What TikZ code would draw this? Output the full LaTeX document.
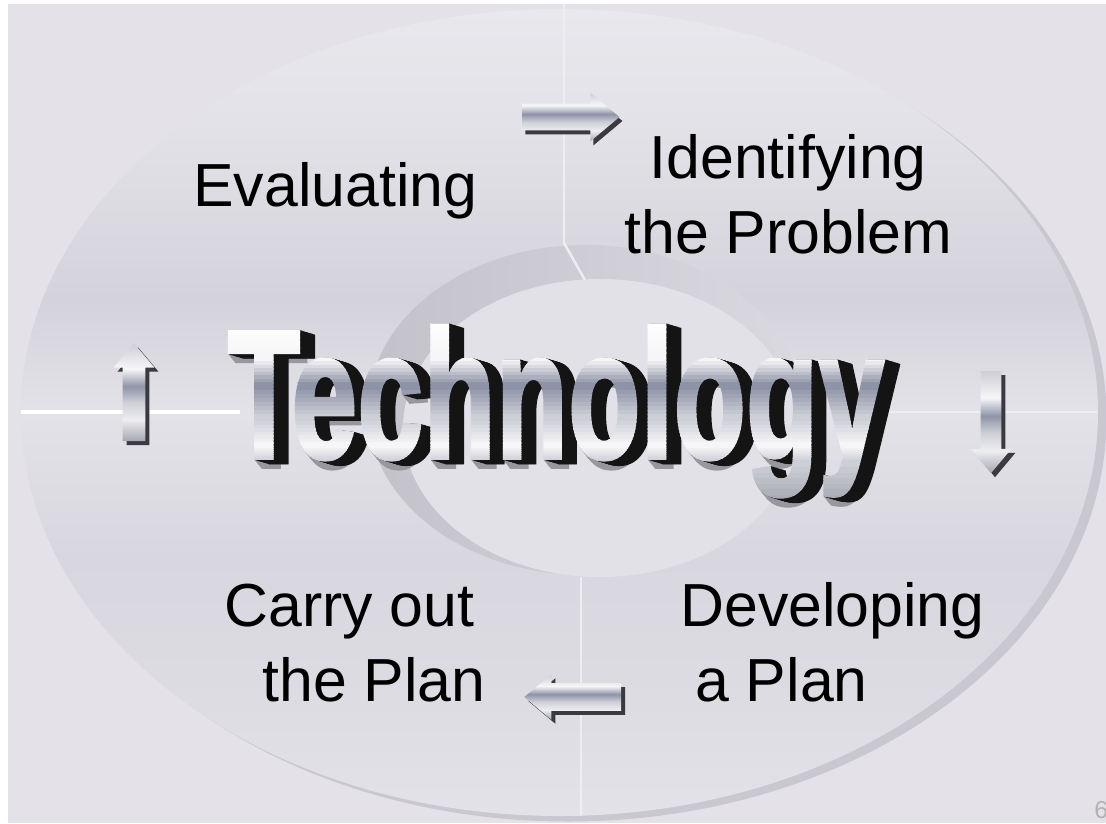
\documentclass[tikz,border=0pt]{standalone}
\usepackage{graphicx}
\usepackage{fontspec}
\setmainfont{Liberation Sans}
\newfontfamily\techfont{Liberation Sans}[BoldFeatures={FakeBold=2}]
\usetikzlibrary{shapes.arrows}

\definecolor{slide}{HTML}{E4E2E8}
\definecolor{ringa}{HTML}{E9E8ED}
\definecolor{ringb}{HTML}{E3E2E8}
\definecolor{ringc}{HTML}{D4D3DB}
\definecolor{ringd}{HTML}{E3E2E8}
\definecolor{ringe}{HTML}{D8D7DF}
\definecolor{ringf}{HTML}{DDDCE3}
\definecolor{ringshadow}{HTML}{C9C8D0}
\definecolor{crescdark}{HTML}{C3C2CB}
\definecolor{cresclight}{HTML}{DAD9E0}
\definecolor{innerdisc}{HTML}{E3E1E8}
\definecolor{seam}{HTML}{EEEDF2}
\definecolor{arrowside}{HTML}{3A3A40}
\definecolor{chromewhite}{HTML}{F6F6F8}
\definecolor{chromeband}{HTML}{8E94A7}
\definecolor{chromemid}{HTML}{CDCFD6}
\definecolor{chromelow}{HTML}{A4A6B0}
\definecolor{techbevel}{HTML}{97979D}

% metal-look shadings
\pgfdeclareverticalshading{ringface}{100bp}{color(0bp)=(ringd); color(25bp)=(ringd);
  color(32bp)=(ringf); color(41bp)=(ringe); color(50bp)=(ringd); color(57bp)=(ringc);
  color(68bp)=(ringb); color(75bp)=(ringa); color(100bp)=(ringa)}
\pgfdeclareverticalshading{chrome}{100bp}{color(0bp)=(chromelow); color(25bp)=(chromelow);
  color(36bp)=(chromewhite!80!chromemid); color(45bp)=(chromemid); color(53bp)=(chromeband);
  color(62bp)=(chromewhite); color(75bp)=(chromemid); color(100bp)=(chromemid)}

\newcommand\techsize{\techfont\fontsize{104.3}{110}\selectfont\bfseries}
\newcommand\techword{\scalebox{0.647}[1]{Technology}}

\begin{document}
\begin{tikzpicture}[x=0.02cm, y=-0.02cm,
    phase/.style={inner sep=0pt, align=left, font=\fontsize{34.6}{42.5}\selectfont},
    chromearrow/.style={single arrow, inner xsep=0pt, single arrow tip angle=80, shading=chrome},
    arrowedge/.style={single arrow, inner xsep=0pt, single arrow tip angle=80, fill=arrowside},
    techword/.style={inner sep=0pt, font=\techsize}]

  % slide background
  \fill[white] (0,0) rectangle (1106,823);
  \fill[slide] (8,4) rectangle (1106,823);
  \useasboundingbox (0,0) rectangle (1106,823);

  % outer ring with its rim
  \fill[ringshadow] (568,418) ellipse [x radius=538.5, y radius=403.5];
  \shade[shading=ringface] (559.5,412.5) ellipse [x radius=538.5, y radius=403.5];

  % inner hollow
  \shade[left color=crescdark, right color=cresclight] (585,410) ellipse [x radius=217, y radius=165];
  \fill[innerdisc] (600,428) ellipse [x radius=197, y radius=149];

  % seams between the four quarters
  \draw[seam, line width=1.4pt] (564,4) -- (564,243) -- (585,280);
  \draw[seam, line width=1.4pt] (581,577) -- (581,816);
  \draw[white, line width=2.6pt] (21,412) -- (240,412);
  \draw[seam, line width=1.4pt] (885,412) -- (1097,412);

  % the four steps
  \node[phase, anchor=base west] (eval) at (193,206) {Evaluating};
  \node[phase, anchor=base west, align=center] (ident) at (624,253) {Identifying\\the Problem};
  \node[phase, anchor=base west] (carry) at (224,701) {Carry out\\\hspace{0.76cm}the Plan};
  \node[phase, anchor=base west] (devel) at (680,701) {Developing\\\hspace{0.3cm}a Plan};

  % arrows running clockwise
  \node[arrowedge, minimum height=1.94cm, inner ysep=0.26cm, single arrow head extend=0.22cm] (toprim) at (566,121) {};
  \node[chromearrow, minimum height=1.94cm, inner ysep=0.26cm, single arrow head extend=0.22cm] (toparrow) at (563,117) {};
  \node[arrowedge, rotate=-90, minimum height=2.04cm, inner ysep=0.2cm, single arrow head extend=0.2cm] (rightrim) at (995,420) {};
  \node[chromearrow, rotate=-90, minimum height=2.04cm, inner ysep=0.2cm, single arrow head extend=0.2cm] (rightarrow) at (991,416) {};
  \node[arrowedge, rotate=180, minimum height=1.94cm, inner ysep=0.27cm, single arrow head extend=0.18cm] (bottomrim) at (585,701) {};
  \node[chromearrow, rotate=180, minimum height=1.94cm, inner ysep=0.27cm, single arrow head extend=0.18cm] (bottomarrow) at (581,697) {};
  \node[arrowedge, rotate=90, minimum height=1.96cm, inner ysep=0.22cm, single arrow head extend=0.18cm] (leftrim) at (138,403) {};
  \node[chromearrow, rotate=90, minimum height=1.96cm, inner ysep=0.22cm, single arrow head extend=0.18cm] (leftarrow) at (134,399) {};

  % title: extruded body first
  \foreach \i in {9,...,1}
    \node[techword, text=techbevel] (bevel\i) at (556+0.8*\i,411+1.0*\i) {\techword};
  \foreach \i in {15,...,1}
    \node[techword, text=black!92] (side\i) at (556+\i,411+0.3*\i) {\techword};
  % chrome face, laid down in thin horizontal bands
  \foreach \ya/\yb/\ca/\cb in {316/358/white/chromewhite, 358/386/chromewhite/chromeband,
      386/418/chromeband/chromemid, 418/446/chromemid/chromewhite,
      446/462/chromewhite/chromemid, 462/506/chromemid/chromelow}
    \foreach \k in {0,...,7} {
      \pgfmathsetmacro\bandtop{\ya+(\yb-\ya)*\k/8}
      \pgfmathsetmacro\bandbot{\ya+(\yb-\ya)*(\k+1)/8+0.6}
      \pgfmathtruncatemacro\mix{100*\k/7}
      \begin{scope}
        \clip (200,\bandtop) rectangle (920,\bandbot);
        \node[techword, text=\cb!\mix!\ca] (face\ya-\k) at (556,411) {\techword};
      \end{scope}
    }

  % page number
  \node[text=gray!60, font=\fontsize{14}{16}\selectfont, anchor=base west, inner sep=0pt] (pagenum) at (1094,818) {6};
\end{tikzpicture}
\end{document}
